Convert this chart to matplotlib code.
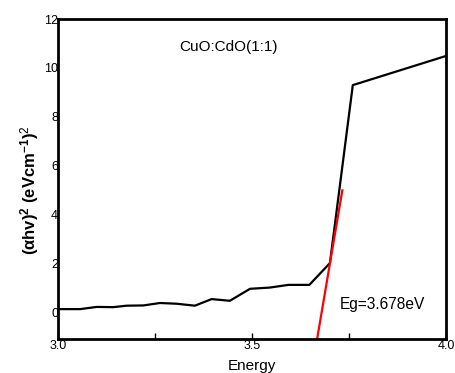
import matplotlib.pyplot as plt
from matplotlib.ticker import MultipleLocator

# datos
energy = [3.0, 3.057, 3.10, 3.142, 3.177, 3.22, 3.263, 3.306, 3.353, 3.396,
          3.443, 3.495, 3.546, 3.594, 3.648, 3.701, 3.76, 4.0]
ahv2 = [0.15, 0.15, 0.24, 0.23, 0.29, 0.30, 0.40, 0.37, 0.29, 0.56,
        0.49, 0.98, 1.03, 1.14, 1.14, 2.03, 9.3, 10.49]

fit_x = [3.668, 3.733]
fit_y = [-1.07, 5.0]

x_ticks = [3.0, 3.5, 4.0]
x_tick_labels = ['3.0', '3.5', '4.0']
y_ticks = [0, 2, 4, 6, 8, 10, 12]

plt.rcParams['font.family'] = ['Liberation Sans', 'DejaVu Sans']
plt.rcParams['mathtext.fontset'] = 'custom'
plt.rcParams['mathtext.rm'] = 'Liberation Sans'
plt.rcParams['mathtext.bf'] = 'Liberation Sans:bold'
plt.rcParams['mathtext.it'] = 'Liberation Sans:italic'

fig = plt.figure(figsize=(4.55, 3.73), dpi=100)
ax = fig.add_axes([0.1275, 0.0912, 0.8525, 0.8578])

ax.plot(energy, ahv2, color='black', lw=1.6)
ax.plot(fit_x, fit_y, color='red', lw=1.6)

ax.set_xlim(3.0, 4.0)
ax.set_ylim(-1.07, 12)

ax.set_xticks(x_ticks)
ax.set_xticklabels(x_tick_labels)
ax.xaxis.set_minor_locator(MultipleLocator(0.25))
ax.set_yticks(y_ticks)

ax.tick_params(axis='x', which='both', direction='in', length=4, width=1,
               labelsize=9, pad=1)
ax.tick_params(axis='y', direction='in', length=0, labelsize=9, pad=0)

for s in ax.spines.values():
    s.set_linewidth(2)

ax.set_xlabel('Energy', fontsize=11)
ax.xaxis.set_label_coords(0.5, -0.062)
ax.set_ylabel(r'$\mathbf{(\alpha hv)^{2}\ (eVcm^{-1})}^{2}$', fontsize=12)
ax.yaxis.set_label_coords(-0.045, 0.466)

ax.text(3.44, 10.86, 'CuO:CdO(1:1)', fontsize=11, ha='center', va='center')
ax.text(3.727, 0.33, 'Eg=3.678eV', fontsize=11.2, ha='left', va='center')

fig.savefig('out.png', dpi=100)
